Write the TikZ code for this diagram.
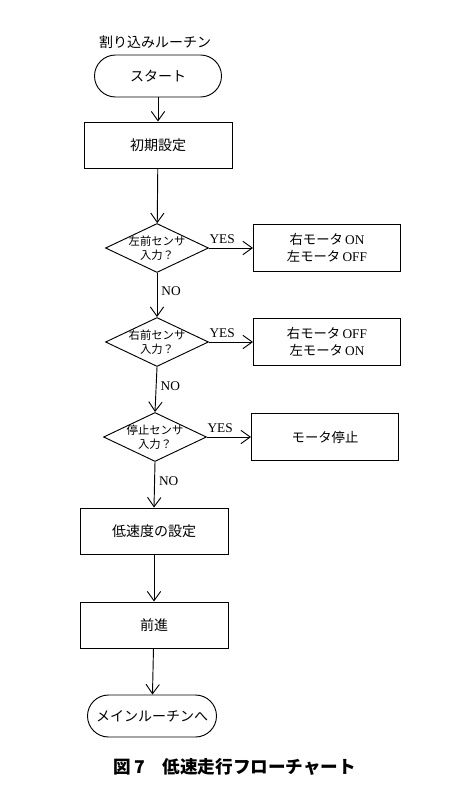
\documentclass[tikz,border=0pt]{standalone}
\usepackage{fontspec}
\setmainfont{Liberation Serif}
\newfontfamily\jp{Noto Sans CJK JP}
\usetikzlibrary{shapes.geometric,arrows.meta}
\begin{document}
\begin{tikzpicture}[x=0.75pt,y=-0.75pt,
  line width=0.7pt,
  arr/.style={-{Straight Barb[length=7pt,width=10pt]}},
  term/.style={draw,rounded corners=15.75pt,minimum width=95.25pt,minimum height=31.5pt,inner sep=0pt,font=\jp\fontsize{10.5pt}{12pt}\selectfont},
  proc/.style={draw,minimum width=111pt,minimum height=34.5pt,inner sep=0pt,font=\jp\fontsize{10.5pt}{12pt}\selectfont},
  act/.style={draw,minimum width=110.25pt,minimum height=35.25pt,inner sep=0pt,align=center,font=\fontsize{10pt}{12.5pt}\selectfont},
  dec/.style={draw,diamond,minimum width=77.25pt,minimum height=36.75pt,inner sep=0pt},
  dectext/.style={align=center,inner sep=0pt,font=\jp\fontsize{8.5pt}{10.5pt}\selectfont},
  lab/.style={font=\fontsize{10pt}{11pt}\selectfont,inner sep=3pt}]
\useasboundingbox (0,0) rectangle (470,796);
\node[font=\jp\fontsize{10.5pt}{12pt}\selectfont] (title) at (155,42) {割り込みルーチン};
\node[term] (start) at (158,76) {スタート};
\node[proc] (init) at (158,145) {初期設定};
\node[dec] (d1) at (157,248) {};
\node[dectext] (t1) at (d1) {左前センサ\\入力？};
\node[act] (b1) at (327,248) {{\jp 右モータ}\,ON\\{\jp 左モータ}\,OFF};
\node[dec] (d2) at (157,342) {};
\node[dectext] (t2) at (d2) {右前センサ\\入力？};
\node[act] (b2) at (327,342) {{\jp 右モータ}\,OFF\\{\jp 左モータ}\,ON};
\node[dec] (d3) at (155,437) {};
\node[dectext] (t3) at (d3) {停止センサ\\入力？};
\node[act,font=\jp\fontsize{10pt}{12pt}\selectfont] (b3) at (325,437) {モータ停止};
\node[proc] (low) at (154,531) {低速度の設定};
\node[proc] (fwd) at (154,625) {前進};
\node[term,minimum width=96.75pt] (end) at (152,716) {メインルーチンへ};
\node[font=\jp\bfseries\fontsize{13.2pt}{15pt}\selectfont] (cap) at (235,767) {図\,7　低速走行フローチャート};
\draw[arr] (start) -- (init);
\draw[arr] (init) -- (d1);
\draw[arr] (d1.east) -- node[lab,above,pos=0.3]{YES} (b1.west);
\draw[arr] (d1.south) -- node[lab,right,pos=0.42]{NO} (d2.north);
\draw[arr] (d2.east) -- node[lab,above,pos=0.3]{YES} (b2.west);
\draw[arr] (d2.south) -- node[lab,right,pos=0.42]{NO} (d3.north);
\draw[arr] (d3.east) -- node[lab,above,pos=0.3]{YES} (b3.west);
\draw[arr] (d3.south) -- node[lab,right,pos=0.42]{NO} (low.north);
\draw[arr] (low) -- (fwd);
\draw[arr] (fwd) -- (end);
\end{tikzpicture}
\end{document}
